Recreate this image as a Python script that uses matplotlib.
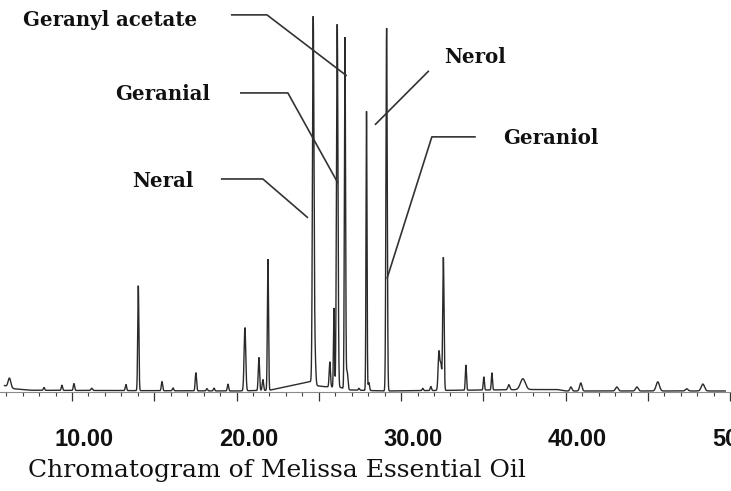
import numpy as np
import matplotlib
matplotlib.use("Agg")
import matplotlib.pyplot as plt
from matplotlib.ticker import MultipleLocator
from matplotlib.transforms import ScaledTranslation

# ---- peak table: retention time (min), height (% full scale), width (sigma, min)
peak_times = [6.20, 8.30, 9.39, 10.12, 11.20, 13.28, 14.03, 15.47, 16.14, 17.53,
              18.20, 18.63, 19.48, 20.51, 21.36, 21.60, 21.91, 24.66, 24.76, 25.67,
              25.92, 26.12, 26.59, 26.72, 27.44, 27.90, 28.04, 29.12, 31.32, 31.81,
              32.30, 32.42, 32.57, 33.94, 35.03, 35.52, 36.55, 37.40, 40.32, 40.92,
              43.11, 44.33, 45.60, 47.36, 48.34]
peak_heights = [2.5, 0.8, 1.4, 1.9, 0.6, 1.7, 28.9, 2.5, 0.8, 5.0,
                0.6, 0.8, 1.9, 17.4, 9.1, 3.0, 36.1, 100.0, 9.0, 6.9,
                21.8, 100.0, 96.7, 5.0, 0.5, 76.9, 2.2, 100.0, 0.6, 1.1,
                10.5, 7.0, 36.6, 6.9, 3.6, 4.7, 1.4, 3.0, 1.1, 2.2,
                1.1, 1.1, 2.5, 0.6, 1.9]
peak_widths = [0.08, 0.04, 0.04, 0.04, 0.05, 0.04, 0.035, 0.04, 0.04, 0.04,
               0.04, 0.04, 0.04, 0.05, 0.04, 0.04, 0.035, 0.045, 0.05, 0.04,
               0.03, 0.045, 0.035, 0.05, 0.04, 0.03, 0.04, 0.04, 0.04, 0.04,
               0.05, 0.05, 0.04, 0.035, 0.035, 0.035, 0.06, 0.15, 0.06, 0.07,
               0.08, 0.08, 0.10, 0.08, 0.10]

# baseline drift anchor points (min, % full scale)
drift_times = [5.9, 6.5, 7.5, 20.0, 22.0, 23.0, 24.5, 24.8, 25.3, 26.3, 26.8, 29.0,
               38.0, 39.5, 40.0, 50.0]
drift_levels = [1.5, 0.6, 0.2, 0.0, 0.2, 1.2, 2.6, 1.5, 1.2, 1.0, 0.3, 0.0,
                0.4, 0.4, 0.0, 0.0]

run_start, run_end = 5.9, 49.7

# ---- labelled compounds: name, text anchor (min, level), leader polyline
labels = ["Geranyl acetate", "Geranial", "Neral", "Nerol", "Geraniol"]
label_pos = [(7.05, 102.2), (12.60, 81.8), (13.65, 57.9), (32.60, 92.0), (36.23, 69.7)]
leader_x = [[19.66, 21.85, 26.70], [20.21, 23.12, 26.16], [19.05, 21.60, 24.34],
            [31.69, 28.41], [34.54, 31.87, 29.14]]
leader_y = [[103.6, 103.6, 86.8], [82.1, 82.1, 57.3], [58.4, 58.4, 47.7],
            [88.2, 73.3], [70.0, 70.0, 30.9]]

tick_values = np.arange(10, 51, 5)
tick_text = [f"{v:.2f}" if v % 10 == 0 else "" for v in tick_values]
caption = "Chromatogram of Melissa Essential Oil"

# ---- build the detector trace from the peak table
t = np.linspace(run_start, run_end, 30000)
signal = np.interp(t, drift_times, drift_levels)
for rt, h, w in zip(peak_times, peak_heights, peak_widths):
    signal = signal + h * np.exp(-0.5 * ((t - rt) / w) ** 2)

fig = plt.figure(figsize=(7.31, 4.91), dpi=100)
ax = fig.add_axes([0, 0, 1, 1])
ax.plot(t, signal, color="#2a2a2a", lw=1.0, solid_joinstyle="miter")

ax.set_xlim(5.626, 50.05)
ax.set_ylim(-27.55, 107.7)

for side in ("left", "right", "top"):
    ax.spines[side].set_visible(False)
ax.spines["bottom"].set_position(("data", -0.4))
ax.spines["bottom"].set_color("#8a8a8a")
ax.spines["bottom"].set_linewidth(0.8)
ax.set_yticks([])

ax.set_xticks(tick_values, tick_text)
ax.xaxis.set_minor_locator(MultipleLocator(1))
ax.tick_params(axis="x", which="major", direction="out", length=6.5, width=0.9,
               color="#333333", pad=19)
ax.tick_params(axis="x", which="minor", direction="out", length=3, width=0.8,
               color="#444444")
shift = ScaledTranslation(0.12, 0, fig.dpi_scale_trans)
for lbl in ax.get_xticklabels():
    lbl.set_fontfamily("Liberation Sans")
    lbl.set_fontweight("bold")
    lbl.set_fontsize(17)
    lbl.set_color("#111111")
    lbl.set_transform(lbl.get_transform() + shift)

# compound labels with leader lines
for name, (lx, ly), xs, ys in zip(labels, label_pos, leader_x, leader_y):
    ax.plot(xs, ys, color="#333333", lw=1.2, solid_capstyle="butt")
    ax.text(lx, ly, name, ha="left", va="center", family="DejaVu Serif",
            fontweight="bold", fontsize=14.2, color="#111111")

fig.text(28 / 731, 1 - 471 / 491, caption, ha="left", va="center",
         family="DejaVu Serif", fontsize=18, color="#111111")

fig.savefig("out.png", dpi=100)
